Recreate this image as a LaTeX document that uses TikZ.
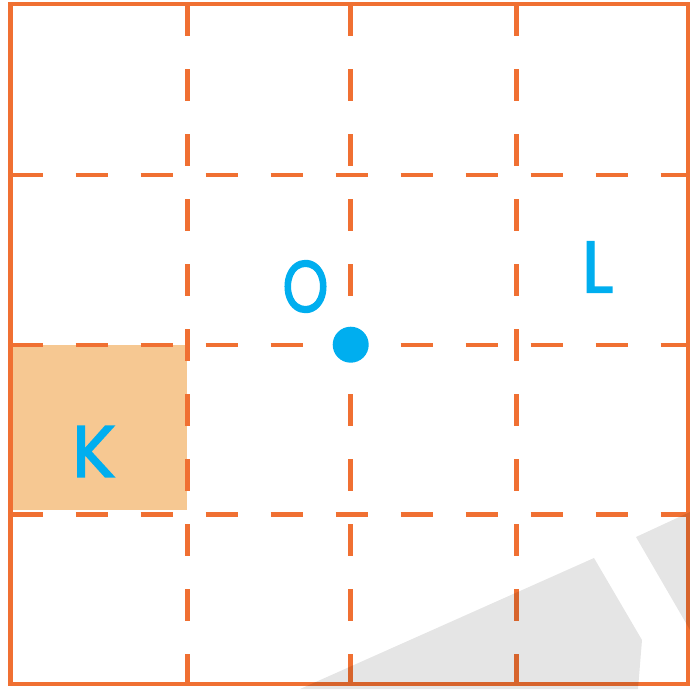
\documentclass[tikz,border=0pt]{standalone}
\usepackage{fontspec}
\newfontfamily\lblfont{Poppins}[FakeBold=2]
\definecolor{gridorange}{RGB}{240,112,50}
\definecolor{kfill}{RGB}{246,200,146}
\definecolor{ptblue}{RGB}{0,174,239}
\tikzset{
  frame/.style={draw=gridorange,line width=4.5pt},
  gridline/.style={draw=gridorange,line width=4.5pt,dash pattern=on 32pt off 33pt},
  lbl/.style={text=ptblue,inner sep=0pt,font=\lblfont\fontsize{73}{73}\selectfont},
}
\begin{document}
\begin{tikzpicture}[x=1pt,y=-1pt]
  \useasboundingbox (0,0) rectangle (690,689);
  % shaded square K
  \fill[kfill] (10.5,345) rectangle (187,510);
  % dashed grid
  \foreach \gx in {187.5,350.7,516.3}
    \draw[gridline] (\gx,4) -- (\gx,684);
  \foreach \gy in {175,345,514.3}
    \draw[gridline] (10.5,\gy) -- (688,\gy);
  \draw[frame] (10.5,4) rectangle (688,684);
  % centre point
  \fill[ptblue] (350.7,344.7) circle (18);
  \node[lbl] (o) at (305.5,286.5) {\scalebox{0.8}[1]{O}};
  \node[lbl] (l) at (597.5,267) {L};
  \node[lbl] (k) at (94,451.5) {K};
  % grey shapes in the corner
  \fill[black,opacity=0.1] (300,689) -- (594,558) -- (642,640) -- (638,689) -- cycle;
  \fill[black,opacity=0.1] (636,537) -- (690,512) -- (690,630) -- cycle;
\end{tikzpicture}
\end{document}
